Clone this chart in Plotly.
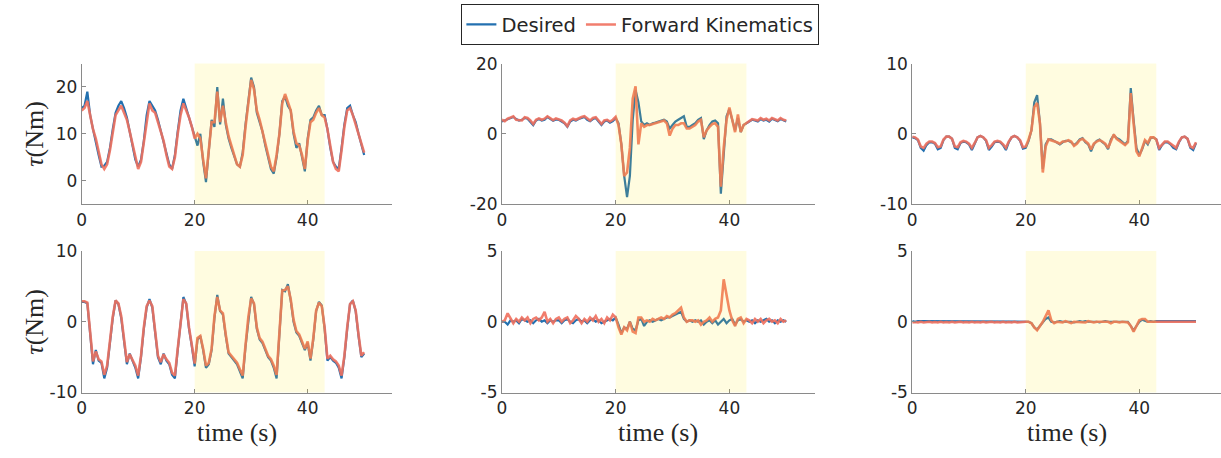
import plotly.graph_objects as go

# ---------------- data (sampled every 0.5 s from 0 to 50 s) ----------------
dt = 0.5

tl_desired = [15.5, 16.0, 19.0, 14.0, 11.0, 8.0, 5.5, 3.0, 3.2, 4.0,
              7.0, 11.0, 14.5, 16.0, 17.0, 15.5, 13.5, 10.5, 7.5, 4.5,
              3.0, 4.5, 8.5, 14.0, 17.0, 16.0, 15.0, 13.0, 10.5, 8.0,
              5.5, 3.5, 2.5, 5.5, 10.5, 15.0, 17.5, 15.5, 14.0, 12.0,
              9.5, 7.5, 10.0, 4.0, -0.3, 6.0, 13.0, 11.5, 20.0, 12.0,
              17.5, 12.0, 9.0, 7.0, 5.0, 3.5, 3.0, 6.0, 12.0, 17.5,
              22.0, 20.0, 14.5, 12.5, 10.5, 7.5, 5.0, 2.5, 1.5, 5.0,
              10.0, 17.0, 18.0, 16.0, 15.0, 10.0, 7.0, 8.0, 5.0, 2.0,
              9.0, 13.0, 13.5, 15.0, 16.0, 14.0, 14.0, 11.0, 7.0, 4.0,
              3.0, 2.5, 7.0, 12.0, 15.5, 16.0, 14.0, 12.5, 10.0, 7.5,
              5.5]
tl_fk = [15.0, 15.5, 17.0, 14.0, 11.0, 9.0, 6.0, 3.5, 2.5, 3.5,
         6.5, 10.5, 14.0, 15.0, 16.0, 14.5, 13.0, 10.5, 8.0, 5.0,
         2.5, 4.0, 8.0, 13.0, 16.5, 15.0, 14.5, 12.5, 10.5, 8.5,
         5.5, 3.0, 2.5, 5.0, 10.0, 14.0, 16.5, 15.0, 13.5, 11.5,
         9.0, 10.0, 9.0, 4.5, 0.5, 6.5, 12.5, 12.5, 19.0, 12.5,
         16.0, 12.5, 9.5, 7.5, 5.5, 3.5, 3.0, 5.5, 11.5, 17.0,
         21.5, 19.5, 15.0, 13.0, 10.5, 8.0, 5.5, 3.0, 2.0, 5.5,
         10.0, 16.5, 18.5, 16.5, 15.0, 10.5, 8.0, 7.5, 5.5, 2.5,
         8.5, 12.5, 13.0, 14.5, 15.5, 14.0, 13.5, 11.0, 7.0, 4.0,
         2.5, 2.0, 6.5, 11.5, 15.0, 15.5, 14.0, 12.0, 10.0, 8.0,
         6.0]

tm_desired = [3.5, 3.8, 4.0, 4.3, 4.8, 4.2, 3.8, 4.0, 4.5, 4.3,
              3.5, 2.5, 3.8, 4.2, 3.8, 4.0, 4.8, 4.2, 3.7, 4.1,
              4.0, 3.5, 3.0, 2.0, 3.5, 4.0, 3.8, 4.2, 4.5, 4.8,
              4.0, 3.6, 4.2, 4.5, 3.5, 2.5, 3.5, 3.8, 3.2, 3.6,
              4.5, 3.0, -3.0, -12.0, -18.0, -12.0, 4.0, 12.5, 9.0, 3.5,
              2.5, 3.0, 2.5, 3.0, 3.2, 3.5, 3.8, 4.0, 3.5, 1.5,
              2.5, 3.5, 4.0, 4.5, 5.0, 2.0, 2.0, 2.5, 3.0, 4.0,
              4.5, -1.5, 1.0, 2.5, 3.5, 3.8, 3.0, -17.0, -6.0, 5.0,
              7.0, 4.0, 1.0, 4.5, 0.5, 2.5, 3.0, 3.5, 4.0, 3.8,
              3.5, 4.2, 3.8, 4.0, 3.5, 4.3, 4.0, 3.6, 4.2, 3.8,
              3.5]
tm_fk = [4.0, 3.6, 4.3, 4.6, 5.0, 4.0, 4.0, 3.8, 4.7, 4.5,
         3.8, 2.8, 4.0, 4.4, 4.0, 4.3, 5.0, 4.4, 3.9, 4.4,
         4.2, 3.8, 3.2, 2.2, 3.8, 4.3, 4.0, 4.5, 4.8, 5.0,
         4.3, 3.8, 4.5, 4.7, 3.8, 2.8, 3.8, 4.0, 3.5, 4.0,
         4.8, 2.5, -3.0, -12.0, -11.0, -4.0, 10.0, 13.5, -3.0, 3.0,
         2.0, 2.5, 2.5, 2.8, 3.0, 3.2, 3.5, 3.8, 3.0, -0.5,
         1.5, 2.5, 2.5, 3.0, 3.0, 1.5, 1.5, 2.0, 2.5, 3.5,
         4.0, -1.0, 1.0, 2.0, 2.8, 3.0, 2.0, -15.0, -4.0, 4.0,
         7.5, 4.0, 0.5, 5.5, 0.5, 2.5, 3.0, 3.5, 4.2, 4.0,
         3.8, 4.5, 4.0, 4.3, 3.8, 4.5, 4.2, 3.8, 4.5, 4.0,
         3.8]

tr_desired = [-0.5, -0.6, -0.9, -2.0, -2.4, -1.6, -1.2, -1.2, -1.4, -2.2,
              -2.0, -0.9, -0.4, -0.4, -0.7, -2.0, -2.2, -1.3, -1.1, -1.2,
              -1.5, -2.3, -1.4, -0.5, -0.3, -0.5, -1.0, -2.3, -1.8, -1.2,
              -1.1, -1.2, -1.6, -2.3, -1.2, -0.5, -0.3, -0.5, -1.0, -2.1,
              -2.0, -1.0, 0.5, 4.5, 5.5, 1.5, -5.0, -1.5, -0.8, -0.8,
              -1.0, -1.3, -1.5, -1.2, -1.0, -1.0, -1.2, -1.6, -1.3, -0.8,
              -0.6, -1.2, -1.5, -2.5, -1.5, -1.0, -0.8, -1.2, -1.5, -2.2,
              -0.8, -0.2, -0.6, -0.8, -1.2, -1.5, -1.0, 6.5, 2.0, -2.0,
              -3.0, -2.2, -1.0, -1.5, -0.6, -0.5, -0.8, -2.3, -1.6, -1.2,
              -1.2, -1.5, -2.0, -2.2, -1.2, -0.5, -0.4, -0.7, -2.0, -2.3,
              -1.3]
tr_fk = [-0.4, -0.5, -0.8, -1.8, -2.0, -1.4, -1.1, -1.1, -1.3, -1.9,
         -1.8, -0.8, -0.4, -0.4, -0.7, -1.8, -1.9, -1.2, -1.0, -1.1,
         -1.4, -2.0, -1.3, -0.5, -0.3, -0.5, -0.9, -2.0, -1.6, -1.1,
         -1.0, -1.1, -1.5, -2.0, -1.1, -0.5, -0.3, -0.5, -0.9, -1.9,
         -1.8, -0.8, 0.5, 3.8, 4.4, 1.5, -5.5, -1.8, -0.8, -0.9,
         -1.0, -1.2, -1.4, -1.1, -1.1, -0.9, -1.1, -1.7, -1.4, -0.9,
         -0.7, -1.1, -1.4, -2.2, -1.4, -1.1, -0.9, -1.1, -1.4, -2.0,
         -0.9, -0.1, -0.7, -1.0, -1.4, -1.6, -1.2, 5.8, 1.5, -2.5,
         -3.2, -2.0, -0.9, -1.3, -0.5, -0.5, -0.8, -2.0, -1.5, -1.1,
         -1.1, -1.4, -1.8, -2.0, -1.1, -0.5, -0.4, -0.7, -1.8, -2.0,
         -1.2]

bl_desired = [2.8, 2.8, 2.6, -2.0, -6.0, -4.0, -5.5, -5.8, -8.0, -6.5,
              -3.0, 0.5, 3.0, 2.5, 0.5, -3.0, -6.0, -4.5, -5.5, -6.5,
              -8.0, -5.0, -1.0, 2.0, 3.2, 2.0, -1.5, -5.0, -6.0, -4.5,
              -5.5, -6.0, -7.5, -8.0, -4.0, 0.0, 3.5, 2.5, -1.0, -3.5,
              -6.3, -2.5, -2.0, -4.0, -6.5, -6.0, -4.0, 0.5, 3.8, 1.5,
              1.0, -2.0, -4.5, -5.0, -5.5, -6.0, -7.0, -8.0, -3.5, 0.5,
              3.5, 2.5, -1.0, -2.5, -3.0, -4.0, -5.0, -5.5, -6.5, -8.0,
              -2.0, 4.5, 4.3, 5.3, 3.0, 0.0, -1.5, -2.0, -3.0, -4.0,
              -3.0, -5.5, -2.5, 1.5, 2.8, 2.3, -1.0, -5.5, -5.0, -5.5,
              -5.8, -6.5, -8.0, -5.0, -1.0, 2.5, 3.0, 1.5, -2.0, -5.0,
              -4.5]
bl_fk = [2.9, 2.9, 2.7, -1.8, -5.6, -4.2, -5.3, -5.6, -7.5, -6.2,
         -2.8, 0.7, 3.0, 2.6, 0.8, -2.8, -5.7, -4.6, -5.3, -6.2,
         -7.6, -4.8, -0.8, 2.2, 3.0, 2.2, -1.3, -4.8, -5.7, -4.6,
         -5.3, -5.8, -7.2, -7.6, -3.8, 0.2, 3.2, 2.6, -0.8, -3.3,
         -5.9, -2.3, -2.0, -3.8, -6.2, -5.8, -3.8, 0.8, 3.5, 1.6,
         1.2, -1.8, -4.3, -4.8, -5.3, -5.8, -6.7, -7.6, -3.3, 0.7,
         3.3, 2.6, -0.8, -2.3, -2.8, -3.8, -4.8, -5.3, -6.2, -7.5,
         -1.8, 4.4, 4.5, 5.0, 3.2, 0.3, -1.3, -1.8, -2.8, -3.8,
         -2.8, -5.2, -2.3, 1.6, 2.7, 2.2, -0.8, -5.2, -4.8, -5.3,
         -5.6, -6.2, -7.6, -4.8, -0.8, 2.5, 2.9, 1.6, -1.8, -4.8,
         -4.3]

bm_desired = [0.0, 0.0, -0.2, 0.1, 0.0, 0.1, -0.1, 0.2, 0.1, 0.0,
              0.1, -0.1, 0.1, 0.2, 0.0, 0.1, -0.1, 0.1, 0.0, 0.1,
              0.1, -0.1, 0.1, 0.2, 0.0, -0.1, 0.1, 0.2, 0.0, 0.1,
              -0.1, 0.1, 0.2, 0.0, 0.1, -0.1, 0.0, 0.1, 0.2, 0.1,
              0.3, -0.2, -0.8, -0.4, -0.5, 0.0, -0.5, -0.6, 0.1, 0.2,
              -0.3, 0.0, 0.1, 0.0, 0.1, 0.2, 0.1, 0.2, 0.3, 0.3,
              0.4, 0.5, 0.6, 0.7, 0.2, 0.0, 0.1, 0.0, 0.1, 0.0,
              0.1, -0.2, 0.0, 0.1, -0.1, 0.1, -0.2, 0.0, 0.2, -0.1,
              0.1, 0.2, -0.2, 0.1, 0.2, 0.0, 0.1, 0.0, 0.1, -0.1,
              0.1, 0.0, 0.1, 0.2, 0.0, 0.1, -0.1, 0.1, 0.0, 0.1,
              0.0]
bm_fk = [0.0, 0.1, 0.6, 0.2, -0.1, 0.2, 0.0, 0.3, 0.1, 0.3,
         -0.1, 0.2, 0.3, 0.1, 0.3, 0.7, 0.0, 0.2, -0.1, 0.2,
         0.3, 0.0, 0.2, 0.3, -0.1, 0.1, 0.4, 0.2, -0.1, 0.2,
         0.0, 0.3, 0.1, 0.4, 0.0, 0.2, -0.1, 0.3, 0.1, 0.5,
         0.3, -0.4, -0.9, -0.4, -0.6, 0.0, -0.7, -0.8, 0.3, 0.3,
         0.0, 0.1, 0.0, 0.2, 0.1, 0.2, 0.3, 0.2, 0.4, 0.3,
         0.5, 0.6, 0.8, 1.0, 0.3, 0.0, 0.1, 0.1, 0.0, 0.1,
         -0.2, 0.0, 0.1, 0.3, 0.0, 0.2, 0.3, 0.8, 3.0, 2.0,
         0.8, 0.1, -0.3, 0.2, 0.3, -0.1, 0.2, 0.1, -0.1, 0.2,
         0.0, 0.2, -0.1, 0.1, 0.2, 0.0, 0.1, -0.1, 0.2, 0.0,
         0.1]

br_desired = [0.05, 0.0, 0.05, 0.05, 0.0, 0.05, 0.05, 0.0, 0.05, 0.05,
              0.0, 0.05, 0.05, 0.0, 0.05, 0.05, 0.0, 0.05, 0.05, 0.0,
              0.05, 0.05, 0.0, 0.05, 0.05, 0.0, 0.05, 0.05, 0.0, 0.05,
              0.05, 0.0, 0.05, 0.05, 0.0, 0.05, 0.05, 0.0, 0.05, 0.05,
              0.05, 0.0, -0.1, -0.4, -0.55, -0.3, 0.0, 0.2, 0.3, 0.0,
              -0.05, 0.0, 0.05, 0.0, 0.0, 0.05, 0.0, -0.05, 0.0, 0.05,
              0.0, 0.05, 0.0, 0.0, 0.05, 0.0, -0.05, 0.0, 0.05, 0.0,
              0.0, 0.05, 0.0, 0.0, 0.0, 0.05, 0.0, -0.3, -0.6, -0.3,
              0.0, 0.15, 0.1, 0.0, 0.05, 0.0, 0.05, 0.05, 0.0, 0.05,
              0.05, 0.0, 0.05, 0.05, 0.0, 0.05, 0.05, 0.0, 0.05, 0.05,
              0.05]
br_fk = [-0.05, -0.02, -0.05, 0.0, -0.05, -0.02, 0.0, -0.05, -0.02, -0.05,
         0.0, -0.05, -0.02, -0.05, 0.0, -0.05, -0.02, 0.0, -0.05, -0.02,
         -0.05, 0.0, -0.05, -0.02, -0.05, 0.0, -0.05, -0.02, 0.0, -0.05,
         -0.02, -0.05, 0.0, -0.05, -0.02, -0.05, 0.0, -0.05, -0.02, 0.0,
         0.0, 0.0, -0.1, -0.4, -0.6, -0.3, 0.0, 0.4, 0.8, 0.1,
         -0.1, 0.0, 0.0, -0.05, 0.05, 0.0, -0.1, 0.0, 0.0, -0.05,
         0.0, -0.05, 0.05, 0.0, -0.05, 0.0, 0.0, -0.05, 0.0, 0.0,
         -0.1, 0.0, 0.0, -0.05, 0.0, 0.0, -0.05, -0.3, -0.7, -0.3,
         0.1, 0.2, 0.2, 0.0, 0.0, -0.05, 0.0, -0.05, 0.0, 0.0,
         -0.05, 0.0, -0.05, 0.0, 0.0, -0.05, 0.0, 0.0, -0.05, 0.0,
         0.0]

series_names = ["Desired", "Forward Kinematics"]
shade_start, shade_end = 20, 43

x_tickvals = [0, 20, 40]
x_ticktext = ["0", "20", "40"]
y_ticks = {
    "tl": ([0, 10, 20], ["0", "10", "20"], [-5, 25]),
    "tm": ([-20, 0, 20], ["-20", "0", "20"], [-20, 20]),
    "tr": ([-10, 0, 10], ["-10", "0", "10"], [-10, 10]),
    "bl": ([-10, 0, 10], ["-10", "0", "10"], [-10, 10]),
    "bm": ([-5, 0, 5], ["-5", "0", "5"], [-5, 5]),
    "br": ([-5, 0, 5], ["-5", "0", "5"], [-5, 5]),
}
y_label = "<i>τ</i>(Nm)"
x_label = "time (s)"

# ---------------- layout geometry ----------------
W, H = 1221, 458
BLUE = "#2370b0"
RED = "#f0705e"
AXC = "#8a8a8a"
TXT = "#262626"

cols_px = [(77, 389, 55.0), (499, 813, 55.0), (911, 1221, 54.4)]
rows_px = [(56, 203), (252, 400)]

panels = [("tl", tl_desired, tl_fk, 0, 0), ("tm", tm_desired, tm_fk, 0, 1),
          ("tr", tr_desired, tr_fk, 0, 2), ("bl", bl_desired, bl_fk, 1, 0),
          ("bm", bm_desired, bm_fk, 1, 1), ("br", br_desired, br_fk, 1, 2)]

fig = go.Figure()
layout = dict(width=W, height=H, autosize=False,
              margin=dict(l=0, r=0, t=0, b=0),
              paper_bgcolor="white", plot_bgcolor="white",
              showlegend=True)
shapes = []
annotations = []

for k, (key, des, fk, r, c) in enumerate(panels, start=1):
    xs = "" if k == 1 else str(k)
    x0p, x1p, xmax = cols_px[c]
    y0p, y1p = rows_px[r]
    tv, tt, yr = y_ticks[key]
    t_des = [i * dt for i in range(len(des))]
    t_fk = [i * dt for i in range(len(fk))]
    fig.add_trace(go.Scatter(x=t_des, y=des, mode="lines", name=series_names[0],
                             line=dict(color=BLUE, width=2.2),
                             xaxis="x" + xs, yaxis="y" + xs,
                             showlegend=(k == 1), legendgroup="d"))
    fig.add_trace(go.Scatter(x=t_fk, y=fk, mode="lines", name=series_names[1],
                             line=dict(color=RED, width=2.6), opacity=0.9,
                             xaxis="x" + xs, yaxis="y" + xs,
                             showlegend=(k == 1), legendgroup="f"))
    common = dict(showline=True, linecolor=AXC, linewidth=1, ticks="inside",
                  ticklen=4, tickcolor=AXC, showgrid=False, zeroline=False,
                  tickfont=dict(family="DejaVu Sans", size=17, color=TXT))
    layout["xaxis" + xs] = dict(domain=[x0p / W, x1p / W], range=[0, xmax],
                                anchor="y" + xs, tickmode="array",
                                tickvals=x_tickvals, ticktext=x_ticktext, **common)
    layout["yaxis" + xs] = dict(domain=[1 - y1p / H, 1 - y0p / H], range=yr,
                                anchor="x" + xs, tickmode="array",
                                tickvals=tv, ticktext=tt, **common)
    shapes.append(dict(type="rect", xref="x" + xs, yref="y" + xs + " domain",
                       x0=shade_start, x1=shade_end, y0=0, y1=1,
                       fillcolor="rgb(255,232,0)", opacity=0.12,
                       line=dict(width=0), layer="above"))
    if c == 0:
        annotations.append(dict(text=y_label, xref="paper", yref="paper",
                                x=30 / W, y=1 - (y0p + y1p) / 2 / H,
                                xanchor="center", yanchor="middle",
                                textangle=-90, showarrow=False,
                                font=dict(family="Liberation Serif", size=26, color=TXT)))
    if r == 1:
        annotations.append(dict(text=x_label, xref="paper", yref="paper",
                                x=(x0p + x1p) / 2 / W, y=1 - 442 / H,
                                xanchor="center", yanchor="middle",
                                showarrow=False,
                                font=dict(family="Liberation Serif", size=26, color=TXT)))

layout["shapes"] = shapes
layout["annotations"] = annotations
layout["legend"] = dict(orientation="h", x=638 / W, xanchor="center",
                        y=1 + 6 / H, yanchor="top",
                        bordercolor=TXT, borderwidth=1, bgcolor="white",
                        font=dict(family="DejaVu Sans", size=19.5, color=TXT),
                        itemwidth=30, tracegroupgap=0)
fig.update_layout(**layout)
fig.write_html("out.html")
